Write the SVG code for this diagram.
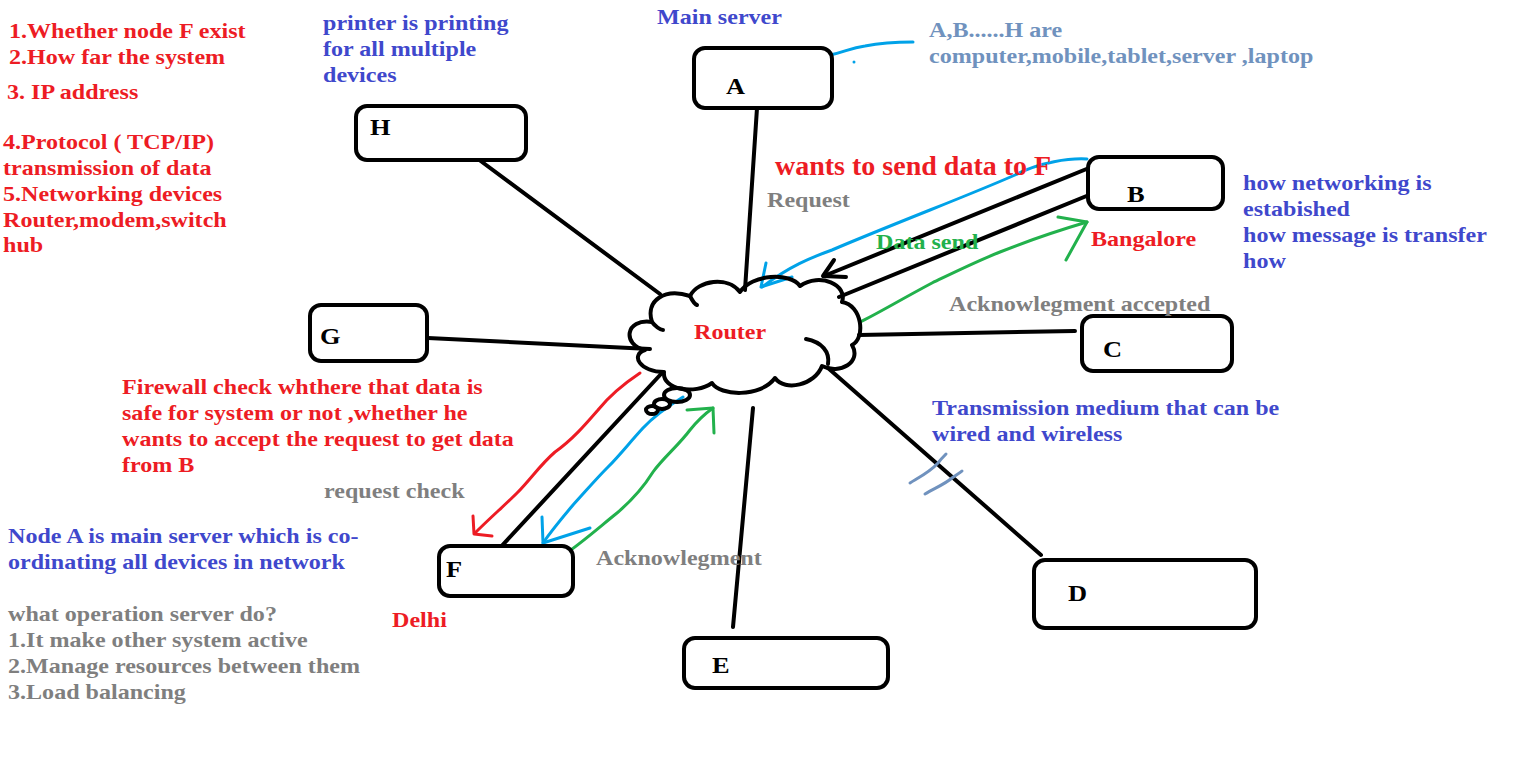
<svg xmlns="http://www.w3.org/2000/svg" width="1522" height="760" viewBox="0 0 1522 760">
<style>
text{font-family:"Liberation Serif","Times New Roman",serif;font-weight:bold;font-size:21.5px}
.red{fill:#ed1c24}.blue{fill:#3f48cc}.gray{fill:#7f7f7f}.slate{fill:#7092be}.green{fill:#22b14c}
.lbl{font-size:24px;fill:#000}
.box{fill:#fff;stroke:#000;stroke-width:4}
.wire{fill:none;stroke:#000;stroke-width:4;stroke-linecap:round;stroke-linejoin:round}
.pen{fill:none;stroke-width:3;stroke-linecap:round;stroke-linejoin:round}
.pr{stroke:#ed1c24}.pb{stroke:#00a2e8}.pg{stroke:#22b14c}.ps{stroke:#7092be}
</style>
<rect width="1522" height="760" fill="#fff"/>
<g id="connectors">
<line class="wire" x1="757" y1="108" x2="745" y2="290"/>
<line class="wire" x1="478" y1="159" x2="660" y2="294"/>
<line class="wire" x1="428" y1="338" x2="650" y2="349"/>
<line class="wire" x1="1089" y1="168" x2="824" y2="276"/>
<polyline class="wire" points="834,260 823,276 846,277"/>
<line class="wire" x1="1089" y1="195" x2="839" y2="297"/>
<line class="wire" x1="859" y1="335" x2="1075" y2="331"/>
<line class="wire" x1="828" y1="368" x2="1041" y2="555"/>
<line class="wire" x1="753" y1="408" x2="733" y2="627"/>
<line class="wire" x1="661" y1="374" x2="497" y2="551"/>
<path class="pen pb" d="M1087,159 C1070,158 1040,162 1015,175 C990,186 960,198 930,210 C900,222 860,238 832,250 C810,258 790,266 762,287"/>
<polyline class="pen pb" points="766,263 761,287 792,277"/>
<path class="pen pg" d="M860,322 C875,315 900,300 932,283 C955,272 975,262 1000,252 C1030,240 1060,230 1087,222"/>
<polyline class="pen pg" points="1058,217 1087,222 1066,260"/>
<path class="pen pr" d="M640,373 C625,383 610,395 598,410 C585,425 572,440 555,452 C540,465 530,480 517,493 C505,505 490,518 475,533"/>
<polyline class="pen pr" points="473,516 474,534 492,536"/>
<path class="pen pb" d="M683,397 C670,405 655,415 643,428 C630,442 620,455 608,467 C595,480 585,492 573,505 C562,518 552,530 543,543"/>
<polyline class="pen pb" points="542,517 543,543 590,528"/>
<path class="pen pg" d="M568,552 C585,540 602,525 617,513 C630,502 643,488 653,472 C663,458 678,446 690,430 C698,420 706,413 713,408"/>
<polyline class="pen pg" points="687,410 713,408 714,433"/>
<path class="pen pb" d="M830,55 C845,52 850,48 865,46 C880,43 895,42 913,42"/>
<circle cx="854" cy="62" r="1.5" fill="#00a2e8"/>
<path class="pen ps" d="M910,483 C918,478 930,472 938,463 C941,459 944,456 946,454"/>
<path class="pen ps" d="M925,494 C935,488 945,484 952,478 C956,475 960,473 962,471"/>
</g>
<g id="router">
<path class="wire" fill="#fff" d="M645,350 C622,345 625,318 652,322 C645,300 665,288 690,296 C698,280 728,276 740,292 C752,274 790,272 800,286 C820,272 848,285 842,302 C862,305 866,338 852,345 C862,362 840,375 822,366 C815,385 785,392 775,378 C760,398 720,396 712,383 C695,395 662,390 664,372 C640,372 630,355 645,350 Z"/>
<path class="wire" d="M806,339 C822,342 830,352 828,364"/>
<path class="wire" d="M652,322 C655,326 660,330 663,330"/>
<path class="wire" d="M690,296 C692,300 694,304 697,305"/>
<ellipse class="wire" fill="#fff" cx="677" cy="395" rx="13" ry="7"/>
<ellipse class="wire" fill="#fff" cx="662" cy="404" rx="8" ry="5"/>
<ellipse class="wire" fill="#fff" cx="652" cy="410" rx="6" ry="4"/>
<text class="red" transform="matrix(1.12 0 0 1 694 339)">Router</text>
</g>
<g id="node-A"><rect class="box" x="694" y="48" width="138" height="60" rx="11"/><text class="lbl" transform="matrix(1.1 0 0 1 726 94)">A</text></g>
<g id="node-H"><rect class="box" x="356" y="106" width="170" height="54" rx="11"/><text class="lbl" transform="matrix(1.1 0 0 1 370 135)">H</text></g>
<g id="node-B"><rect class="box" x="1088" y="157" width="135" height="52" rx="11"/><text class="lbl" transform="matrix(1.1 0 0 1 1127 202)">B</text></g>
<g id="node-G"><rect class="box" x="310" y="305" width="117" height="56" rx="11"/><text class="lbl" transform="matrix(1.1 0 0 1 320 344)">G</text></g>
<g id="node-C"><rect class="box" x="1082" y="316" width="150" height="55" rx="11"/><text class="lbl" transform="matrix(1.1 0 0 1 1103 357)">C</text></g>
<g id="node-F"><rect class="box" x="439" y="546" width="134" height="50" rx="11"/><text class="lbl" transform="matrix(1.1 0 0 1 446 577)">F</text></g>
<g id="node-E"><rect class="box" x="684" y="638" width="204" height="50" rx="11"/><text class="lbl" transform="matrix(1.1 0 0 1 712 673)">E</text></g>
<g id="node-D"><rect class="box" x="1034" y="560" width="222" height="68" rx="11"/><text class="lbl" transform="matrix(1.1 0 0 1 1068 601)">D</text></g>
<g id="labels">
<text class="red" transform="matrix(1.12 0 0 1 9 38)">1.Whether node F exist</text>
<text class="red" transform="matrix(1.12 0 0 1 9 64)">2.How far the system</text>
<text class="red" transform="matrix(1.12 0 0 1 7 99)">3. IP address</text>
<text class="red" transform="matrix(1.12 0 0 1 3 149)">4.Protocol ( TCP/IP)</text>
<text class="red" transform="matrix(1.12 0 0 1 3 175)">transmission of data</text>
<text class="red" transform="matrix(1.12 0 0 1 3 201)">5.Networking devices</text>
<text class="red" transform="matrix(1.12 0 0 1 3 227)">Router,modem,switch</text>
<text class="red" transform="matrix(1.12 0 0 1 3 252)">hub</text>
<text class="blue" transform="matrix(1.12 0 0 1 323 30)">printer is printing</text>
<text class="blue" transform="matrix(1.12 0 0 1 323 56)">for all multiple</text>
<text class="blue" transform="matrix(1.12 0 0 1 323 82)">devices</text>
<text class="blue" transform="matrix(1.12 0 0 1 657 24)">Main server</text>
<text class="slate" transform="matrix(1.12 0 0 1 929 37)">A,B......H are</text>
<text class="slate" transform="matrix(1.12 0 0 1 929 63)">computer,mobile,tablet,server ,laptop</text>
<text class="red" style="font-size:28px" transform="matrix(1 0 0 1 775 175)">wants to send data to F</text>
<text class="gray" transform="matrix(1.12 0 0 1 767 207)">Request</text>
<text class="green" transform="matrix(1.12 0 0 1 876 249)">Data send</text>
<text class="red" transform="matrix(1.12 0 0 1 1091 246)">Bangalore</text>
<text class="blue" transform="matrix(1.12 0 0 1 1243 190)">how networking is</text>
<text class="blue" transform="matrix(1.12 0 0 1 1243 216)">estabished</text>
<text class="blue" transform="matrix(1.12 0 0 1 1243 242)">how message is transfer</text>
<text class="blue" transform="matrix(1.12 0 0 1 1243 268)">how</text>
<text class="gray" transform="matrix(1.12 0 0 1 949 311)">Acknowlegment accepted</text>
<text class="red" transform="matrix(1.12 0 0 1 122 394)">Firewall check whthere that data is</text>
<text class="red" transform="matrix(1.12 0 0 1 122 420)">safe for system or not ,whether he</text>
<text class="red" transform="matrix(1.12 0 0 1 122 446)">wants to accept the request to get data</text>
<text class="red" transform="matrix(1.12 0 0 1 122 472)">from B</text>
<text class="blue" transform="matrix(1.12 0 0 1 932 415)">Transmission medium that can be</text>
<text class="blue" transform="matrix(1.12 0 0 1 932 441)">wired and wireless</text>
<text class="gray" transform="matrix(1.12 0 0 1 324 498)">request check</text>
<text class="blue" transform="matrix(1.12 0 0 1 8 543)">Node A is main server which is co-</text>
<text class="blue" transform="matrix(1.12 0 0 1 8 569)">ordinating all devices in network</text>
<text class="gray" transform="matrix(1.12 0 0 1 596 565)">Acknowlegment</text>
<text class="red" transform="matrix(1.12 0 0 1 392 627)">Delhi</text>
<text class="gray" transform="matrix(1.12 0 0 1 8 621)">what operation server do?</text>
<text class="gray" transform="matrix(1.12 0 0 1 8 647)">1.It make other system active</text>
<text class="gray" transform="matrix(1.12 0 0 1 8 673)">2.Manage resources between them</text>
<text class="gray" transform="matrix(1.12 0 0 1 8 699)">3.Load balancing</text>
</g>
</svg>
